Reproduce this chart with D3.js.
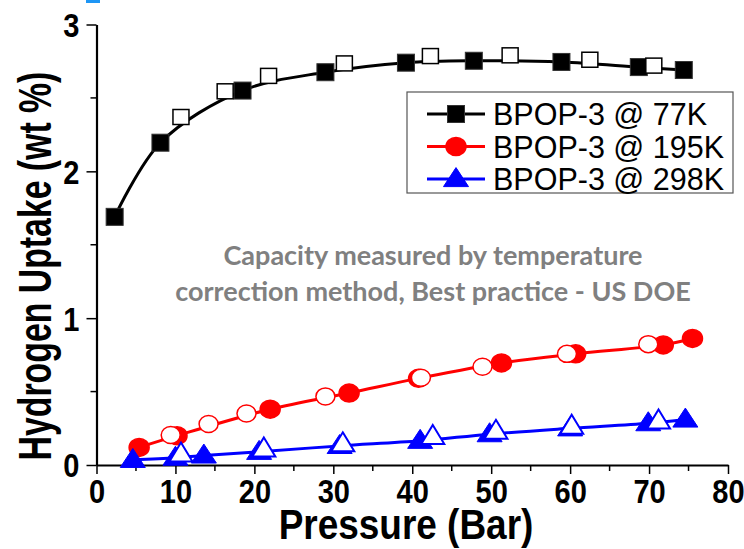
<!DOCTYPE html>
<html>
<head>
<meta charset="utf-8">
<script src="https://cdn.jsdelivr.net/npm/d3@7"></script>
<style>
body { margin: 0; background: #fff; }
svg { display: block; }
</style>
</head>
<body>
<div id="chart"></div>
<script>
// tick values
var xTicks = [0, 10, 20, 30, 40, 50, 60, 70, 80];
var xMinor = [5, 15, 25, 35, 45, 55, 65, 75];
var yTicks = [0, 1, 2, 3];
var yMinor = [0.5, 1.5, 2.5];

var seriesNames = ['BPOP-3 @ 77K', 'BPOP-3 @ 195K', 'BPOP-3 @ 298K'];
var seriesColors = ['#000000', '#ff0000', '#0000ff'];
var seriesShapes = ['square', 'circle', 'triangle'];

// [pressure (bar), uptake (wt %)] - filled = adsorption, open = desorption
var k77Filled = [[2.3, 1.69], [8.1, 2.195], [18.5, 2.55], [29, 2.675], [39.2, 2.74],
  [47.8, 2.753], [58.9, 2.745], [68.7, 2.71], [74.4, 2.69]];
var k77Open = [[10.7, 2.37], [16.3, 2.545], [21.8, 2.65], [31.4, 2.735], [42.3, 2.785],
  [52.4, 2.79], [62.5, 2.76], [70.6, 2.72]];
var k195Filled = [[5.4, 0.12], [10.2, 0.2], [22, 0.38], [32, 0.49], [40.8, 0.59],
  [51.3, 0.695], [60.7, 0.757], [71.8, 0.818], [75.5, 0.862]];
var k195Open = [[9.4, 0.204], [14.2, 0.279], [19, 0.351], [29, 0.467], [41.1, 0.594],
  [48.9, 0.669], [59.6, 0.757], [69.9, 0.823]];
var k298Filled = [[4.6, 0.035], [10, 0.05], [13.6, 0.065], [20.6, 0.09], [30.8, 0.13],
  [41, 0.165], [49.8, 0.21], [60, 0.25], [69.9, 0.285], [74.6, 0.31]];
var k298Open = [[10.7, 0.075], [21.2, 0.11], [31.2, 0.145], [42.6, 0.195], [50.6, 0.23],
  [60.2, 0.265], [71.2, 0.3]];

var noteLines = ['Capacity measured by temperature', 'correction method, Best practice - US DOE'];

var width = 744, height = 549;
var svg = d3.select('#chart').append('svg')
  .attr('width', width)
  .attr('height', height);

var x = d3.scaleLinear().domain([0, 80]).range([96.5, 728]);
var y = d3.scaleLinear().domain([0, 3]).range([465, 24.5]);

// small blue mark at the top edge
svg.append('rect')
  .attr('x', 86).attr('y', 0).attr('width', 14).attr('height', 3)
  .attr('fill', '#1e96f5');

// axes
var xAxis = svg.append('g')
  .attr('transform', 'translate(0,' + y(0) + ')')
  .call(d3.axisBottom(x).tickValues(xTicks).tickSize(9).tickSizeOuter(0).tickFormat(d3.format('d')));
xAxis.append('g').selectAll('line')
  .data(xMinor).enter().append('line')
  .attr('x1', function(d) { return x(d); })
  .attr('x2', function(d) { return x(d); })
  .attr('y1', 0).attr('y2', 6)
  .attr('stroke', '#000').attr('stroke-width', 1.5);

var yAxis = svg.append('g')
  .attr('transform', 'translate(' + x(0) + ',0)')
  .call(d3.axisLeft(y).tickValues(yTicks).tickSize(10).tickSizeOuter(0).tickFormat(d3.format('d')));
yAxis.append('g').selectAll('line')
  .data(yMinor).enter().append('line')
  .attr('y1', function(d) { return y(d); })
  .attr('y2', function(d) { return y(d); })
  .attr('x1', 0).attr('x2', -6)
  .attr('stroke', '#000').attr('stroke-width', 1.5);

[xAxis, yAxis].forEach(function(ax) {
  ax.select('.domain').attr('stroke', '#000').attr('stroke-width', 2.2);
  ax.selectAll('.tick line').attr('stroke', '#000').attr('stroke-width', 1.5);
  ax.selectAll('.tick text')
    .style('font-family', '"Liberation Sans", Arial, sans-serif')
    .style('font-weight', 'bold')
    .style('font-size', '33px')
    .attr('fill', '#000');
});
xAxis.selectAll('.tick text')
  .attr('y', 0).attr('dy', null)
  .attr('transform', 'translate(0,38) scale(0.88,1)');
yAxis.selectAll('.tick text')
  .attr('x', 0).attr('dy', '0.36em')
  .attr('transform', 'translate(-17,0) scale(0.88,1)');

// axis titles
svg.append('text')
  .attr('transform', 'translate(406,539) scale(0.88,1)')
  .attr('text-anchor', 'middle')
  .style('font-family', '"Liberation Sans", Arial, sans-serif')
  .style('font-weight', 'bold')
  .style('font-size', '42px')
  .text('Pressure (Bar)');

svg.append('text')
  .attr('transform', 'translate(51,266) rotate(-90) scale(0.735,1)')
  .attr('text-anchor', 'middle')
  .style('font-family', '"Liberation Sans", Arial, sans-serif')
  .style('font-weight', 'bold')
  .style('font-size', '46px')
  .text('Hydrogen Uptake (wt %)');

// markers
function drawMarker(g, shape, color, filled, cx, cy) {
  if (shape === 'square') {
    var s = filled ? 17 : 16;
    g.append('rect')
      .attr('x', cx - s / 2).attr('y', cy - (filled ? s : 15) / 2)
      .attr('width', s).attr('height', filled ? s : 15)
      .attr('fill', filled ? '#000' : '#fff')
      .attr('stroke', filled ? '#333' : '#000')
      .attr('stroke-width', filled ? 1 : 1.5);
  } else if (shape === 'circle') {
    g.append('ellipse')
      .attr('cx', cx).attr('cy', cy)
      .attr('rx', filled ? 10 : 9.5).attr('ry', filled ? 9 : 8.5)
      .attr('fill', filled ? color : '#fff')
      .attr('stroke', color).attr('stroke-width', 1.5);
  } else {
    var w = filled ? 25 : 23, h = 19;
    g.append('path')
      .attr('d', 'M' + cx + ',' + (cy - h * 0.6) + 'L' + (cx + w / 2) + ',' + (cy + h * 0.4) +
        'L' + (cx - w / 2) + ',' + (cy + h * 0.4) + 'Z')
      .attr('fill', filled ? color : '#fff')
      .attr('stroke', color).attr('stroke-width', filled ? 1 : 2)
      .attr('stroke-linejoin', 'miter');
  }
}

var line = d3.line()
  .x(function(d) { return x(d[0]); })
  .y(function(d) { return y(d[1]); })
  .curve(d3.curveCatmullRom.alpha(0.5));

var filledSets = [k77Filled, k195Filled, k298Filled];
var openSets = [k77Open, k195Open, k298Open];

var plot = svg.append('g');
filledSets.forEach(function(data, i) {
  plot.append('path')
    .datum(data)
    .attr('d', line)
    .attr('fill', 'none')
    .attr('stroke', seriesColors[i])
    .attr('stroke-width', 3);
});
filledSets.forEach(function(data, i) {
  var g = plot.append('g');
  data.forEach(function(d) { drawMarker(g, seriesShapes[i], seriesColors[i], true, x(d[0]), y(d[1])); });
});
openSets.forEach(function(data, i) {
  var g = plot.append('g');
  data.forEach(function(d) { drawMarker(g, seriesShapes[i], seriesColors[i], false, x(d[0]), y(d[1])); });
});

// legend
var legend = svg.append('g');
legend.append('rect')
  .attr('x', 407).attr('y', 92).attr('width', 326).attr('height', 101)
  .attr('fill', '#fff').attr('stroke', '#555').attr('stroke-width', 1.2);
seriesNames.forEach(function(name, i) {
  var ry = 114 + i * 32.5;
  legend.append('line')
    .attr('x1', 427).attr('x2', 485).attr('y1', ry).attr('y2', ry)
    .attr('stroke', seriesColors[i]).attr('stroke-width', 3);
  drawMarker(legend, seriesShapes[i], seriesColors[i], true, 456, ry);
  legend.append('text')
    .attr('x', 493).attr('y', ry + 11)
    .style('font-family', '"Liberation Sans", Arial, sans-serif')
    .style('font-size', '30.5px')
    .attr('fill', '#000')
    .text(name);
});

// note
svg.append('g').selectAll('text')
  .data(noteLines).enter().append('text')
  .attr('x', 433)
  .attr('y', function(d, i) { return 265 + i * 36; })
  .attr('text-anchor', 'middle')
  .style('font-family', 'Lato, "Open Sans", sans-serif')
  .style('font-weight', 'bold')
  .style('font-size', '27px')
  .attr('fill', '#808080')
  .text(function(d) { return d; });
</script>
</body>
</html>
